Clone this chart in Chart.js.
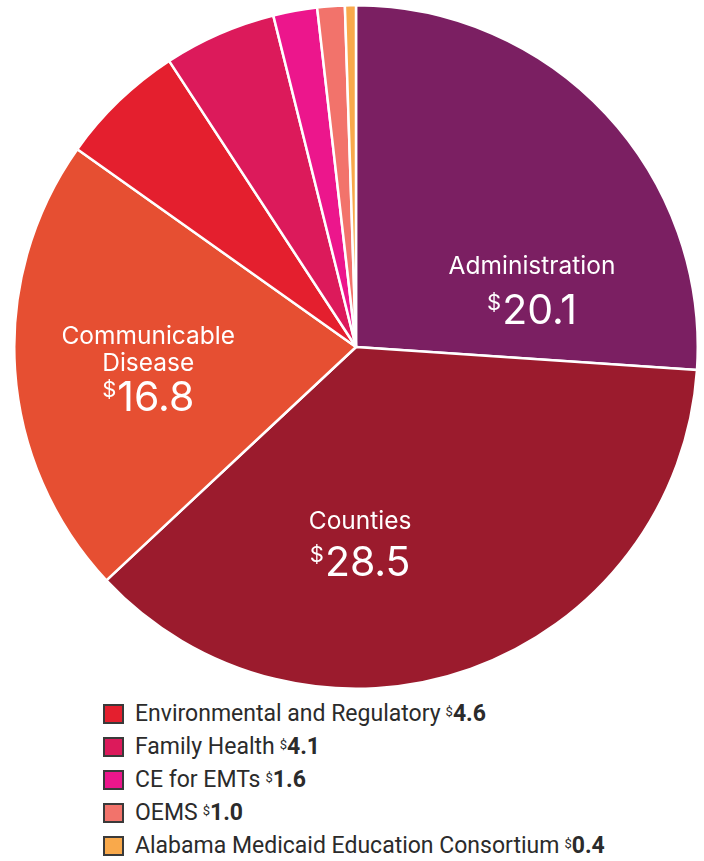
<!DOCTYPE html>
<html>
<head>
<meta charset="utf-8">
<script src="https://cdn.jsdelivr.net/npm/chart.js@4/dist/chart.umd.min.js"></script>
<style>
  html, body { margin: 0; padding: 0; background: #fff; }
  body { width: 704px; height: 861px; position: relative; overflow: hidden; }
  #pie { position: absolute; left: 13px; top: 4px; }
  #legend { position: absolute; left: 0; top: 0; width: 704px; }
  .row { position: absolute; left: 103px; height: 33px; display: flex; align-items: center;
         font-family: Roboto, "Liberation Sans", sans-serif; font-size: 23px; color: #2b2b2b; white-space: nowrap; }
  .swatch { width: 17px; height: 16px; border: 2px solid #3a3a3a; margin-right: 11px; flex: none; }
  .row sup { font-size: 13px; position: relative; top: -2px; margin-left: 5px; }
  .row b { font-weight: 700; }
</style>
</head>
<body>
<canvas id="pie" width="686" height="686"></canvas>
<div id="legend"></div>
<script>
// budget categories, clockwise from 12 o'clock (millions)
const categories = [
  'Administration',
  'Counties',
  'Communicable Disease',
  'Environmental and Regulatory',
  'Family Health',
  'CE for EMTs',
  'OEMS',
  'Alabama Medicaid Education Consortium'
];
const amounts = [20.1, 28.5, 16.8, 4.6, 4.1, 1.6, 1.0, 0.4];
const sliceColors = ['#7b1f62', '#9b1b2d', '#e64f32', '#e41f2e', '#dc1a5b', '#ec168c', '#f2736b', '#f9a94b'];

// which slices get their name written inside the pie, and how it wraps
const insideLabels = [
  { index: 0, lines: ['Administration'] },
  { index: 1, lines: ['Counties'] },
  { index: 2, lines: ['Communicable', 'Disease'] }
];
// the rest go in the list under the pie
const legendIndexes = [3, 4, 5, 6, 7];

// where each inside label sits: angle clockwise from top (deg) and fraction of the radius
const labelSpots = [
  { angle: 67.6, dist: 0.557, valueGap: 50 },
  { angle: 178.7, dist: 0.534, valueGap: 47 },
  { angle: 270.7, dist: 0.608, valueGap: 67 }
];

const sliceLabels = {
  id: 'sliceLabels',
  afterDatasetsDraw(chart) {
    const ctx = chart.ctx;
    const meta = chart.getDatasetMeta(0);
    ctx.save();
    ctx.fillStyle = '#fff';
    ctx.textBaseline = 'alphabetic';
    insideLabels.forEach((lab, k) => {
      const arc = meta.data[lab.index];
      const spot = labelSpots[k];
      const a = spot.angle * Math.PI / 180;
      const x = arc.x + arc.outerRadius * spot.dist * Math.sin(a);
      const y = arc.y - arc.outerRadius * spot.dist * Math.cos(a);

      ctx.font = '400 24.5px Inter, "Liberation Sans", sans-serif';
      ctx.textAlign = 'center';
      lab.lines.forEach((line, i) => {
        ctx.fillText(line, x, y + i * 27);
      });

      // value: small raised dollar sign, then large figure
      const figure = amounts[lab.index].toFixed(1);
      const vy = y + spot.valueGap;
      ctx.font = '400 22px Inter, "Liberation Sans", sans-serif';
      const dw = ctx.measureText('$').width;
      ctx.font = '400 41px Inter, "Liberation Sans", sans-serif';
      const fw = ctx.measureText(figure).width;
      const left = x - (dw + 1 + fw) / 2;
      ctx.textAlign = 'left';
      ctx.fillText(figure, left + dw + 1, vy);
      ctx.font = '400 22px Inter, "Liberation Sans", sans-serif';
      ctx.fillText('$', left, vy - 14);
    });
    ctx.restore();
  }
};

new Chart(document.getElementById('pie'), {
  type: 'pie',
  data: {
    labels: categories,
    datasets: [{
      data: amounts,
      backgroundColor: sliceColors,
      borderColor: '#ffffff',
      borderWidth: 2.5
    }]
  },
  options: {
    responsive: false,
    animation: false,
    layout: { padding: 0 },
    plugins: {
      legend: { display: false },
      tooltip: { enabled: false }
    }
  },
  plugins: [sliceLabels]
});

// list legend for the small slices
const legend = document.getElementById('legend');
legendIndexes.forEach((idx, i) => {
  const row = document.createElement('div');
  row.className = 'row';
  row.style.top = (697 + i * 33) + 'px';
  const sw = document.createElement('span');
  sw.className = 'swatch';
  sw.style.background = sliceColors[idx];
  row.appendChild(sw);
  row.appendChild(document.createTextNode(categories[idx]));
  const sup = document.createElement('sup');
  sup.textContent = '$';
  row.appendChild(sup);
  const b = document.createElement('b');
  b.textContent = amounts[idx].toFixed(1);
  row.appendChild(b);
  legend.appendChild(row);
});
</script>
</body>
</html>
